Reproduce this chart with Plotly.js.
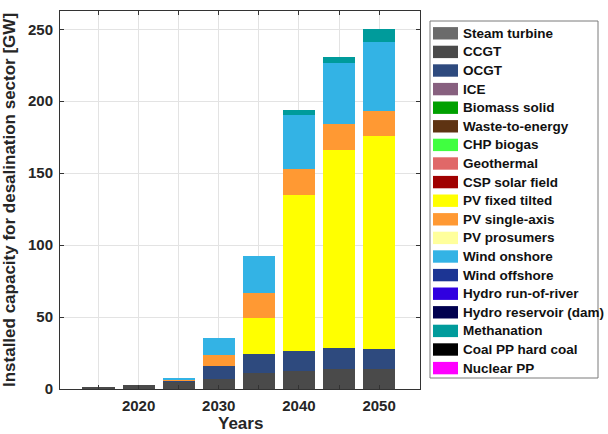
<!DOCTYPE html>
<html>
<head>
<meta charset="utf-8">
<script src="https://cdn.plot.ly/plotly-3.0.1.min.js"></script>
<style>html,body{margin:0;padding:0;background:#fff;}#chart{width:608px;height:434px;}</style>
</head>
<body>
<div id="chart"></div>
<script>
const years = [2015, 2020, 2025, 2030, 2035, 2040, 2045, 2050];
const techNames = ["Steam turbine","CCGT","OCGT","ICE","Biomass solid","Waste-to-energy","CHP biogas","Geothermal","CSP solar field","PV fixed tilted","PV single-axis","PV prosumers","Wind onshore","Wind offshore","Hydro run-of-river","Hydro reservoir (dam)","Methanation","Coal PP hard coal","Nuclear PP"];
const techColors = ["#6b6b6b","#4a4a4a","#2e4a7e","#87607f","#00a000","#5e3312","#40ff40","#e06868","#a00000","#ffff00","#ff9933","#ffff9c","#33b3e5","#1c3594","#3000e0","#00004f","#009b9b","#000000","#ff00ff"];
const zeros = [0,0,0,0,0,0,0,0];
const steamTurbine = zeros;
const ccgt = [1.2, 3.0, 5.0, 7.2, 11.1, 12.5, 14.1, 13.9];
const ocgt = [0.3, 0.0, 0.3, 8.6, 12.9, 13.9, 14.1, 13.9];
const pvFixed = [0, 0, 0.3, 0.2, 25.3, 108.7, 137.8, 148.1];
const pvSingle = [0, 0, 0.7, 7.8, 17.4, 17.7, 18.0, 17.6];
const windOnshore = [0, 0, 1.4, 11.5, 25.9, 37.5, 42.4, 47.5];
const methanation = [0, 0, 0, 0, 0, 3.5, 4.1, 9.2];
const seriesValues = {
  "Steam turbine": steamTurbine, "CCGT": ccgt, "OCGT": ocgt,
  "PV fixed tilted": pvFixed, "PV single-axis": pvSingle,
  "Wind onshore": windOnshore, "Methanation": methanation
};
const yTickVals = [0, 50, 100, 150, 200, 250];
const xTickVals = [2015, 2020, 2025, 2030, 2035, 2040, 2045, 2050];
const xTickText = ["", "2020", "", "2030", "", "2040", "", "2050"];

const FONT = "'Liberation Sans', Arial, sans-serif";
const traces = techNames.map((n, i) => ({
  type: "bar", name: n, x: years, y: seriesValues[n] || zeros,
  width: 4, marker: {color: techColors[i], line: {width: 0}},
  showlegend: false, hoverinfo: "name+y"
}));

// custom legend (matlab-style) built from the names/colors arrays
const L = 60, T = 11, W = 360, H = 378;
const px = v => (v - L) / W, py = v => (T + H - v) / H;
const shapes = [{type: "rect", xref: "paper", yref: "paper", x0: px(430), x1: px(598), y0: py(21), y1: py(378),
  line: {color: "#7a7a7a", width: 1}, fillcolor: "#fff", layer: "below"}];
const annotations = [];
techNames.forEach((n, i) => {
  const cy = 33.3 + i * 18.6;
  shapes.push({type: "rect", xref: "paper", yref: "paper", x0: px(433), x1: px(458), y0: py(cy + 6.2), y1: py(cy - 6.2),
    line: {width: 0}, fillcolor: techColors[i]});
  annotations.push({xref: "paper", yref: "paper", x: px(461), y: py(cy), xanchor: "left", yanchor: "middle",
    text: "<b>" + n + "</b>", showarrow: false, font: {family: FONT, size: 13.5, color: "#111"}});
});
// x-axis title placed precisely, kept inside the page
annotations.push({xref: "paper", yref: "paper", x: 0.5, y: py(434), xanchor: "center", yanchor: "bottom",
  text: "<b>Years</b>", showarrow: false, borderpad: 0, font: {family: FONT, size: 17, color: "#262626"}});

const layout = {
  width: 608, height: 434,
  margin: {l: 60, r: 188, t: 11, b: 45, pad: 0},
  paper_bgcolor: "#fff", plot_bgcolor: "#fff",
  barmode: "stack", bargap: 0,
  font: {family: FONT, color: "#262626"},
  xaxis: {range: [2010.2, 2055.1], tickvals: xTickVals, ticktext: xTickText,
    tickfont: {family: FONT, size: 15, color: "#262626", weight: "bold"},
    showgrid: true, gridcolor: "#e3e3e3", gridwidth: 1, zeroline: false,
    showline: true, linecolor: "#333", linewidth: 1, mirror: "ticks",
    ticks: "inside", ticklen: 4, tickcolor: "#333", ticklabelstandoff: 3},
  yaxis: {range: [0, 262.7], tickvals: yTickVals,
    tickfont: {family: FONT, size: 15, color: "#262626", weight: "bold"},
    showgrid: true, gridcolor: "#e3e3e3", gridwidth: 1, zeroline: false,
    showline: true, linecolor: "#333", linewidth: 1, mirror: "ticks",
    ticks: "inside", ticklen: 4, tickcolor: "#333", ticklabelstandoff: 3,
    title: {text: "<b>Installed capacity for desalination sector [GW]</b>", font: {family: FONT, size: 17, color: "#262626"}, standoff: 8}},
  shapes: shapes, annotations: annotations, showlegend: false
};
Plotly.newPlot("chart", traces, layout, {displayModeBar: false, staticPlot: true});
</script>
</body>
</html>
